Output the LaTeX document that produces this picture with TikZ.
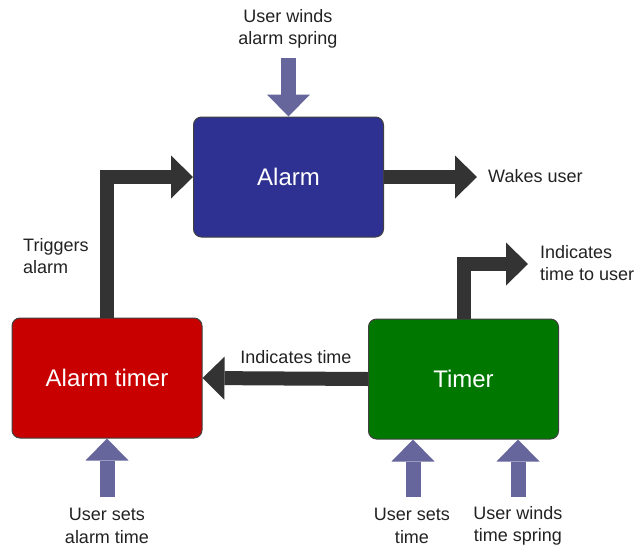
\documentclass[tikz,border=0pt]{standalone}
\usepackage{fontspec}
\setmainfont{Liberation Sans}
\usetikzlibrary{arrows.meta}
\definecolor{alarmblue}{HTML}{2E3192}
\definecolor{timerred}{HTML}{C80000}
\definecolor{timergreen}{HTML}{007800}
\definecolor{boxedge}{HTML}{404040}
\definecolor{darkarrow}{HTML}{333333}
\definecolor{purplearrow}{HTML}{66669C}
\definecolor{labeltext}{HTML}{222222}
\begin{document}
\begin{tikzpicture}[x=1pt,y=-1pt,
  box/.style={draw=boxedge, line width=1pt, rounded corners=8pt,
    minimum width=190pt, minimum height=120pt, inner sep=0pt,
    text=white, font=\fontsize{24}{28}\selectfont},
  lbl/.style={text=labeltext, font=\fontsize{18}{22.5}\selectfont, inner sep=0pt},
  flow/.style={draw=darkarrow, line width=14pt, line join=miter, line cap=butt,
    -{Triangle[width=43pt,length=22pt,line width=0pt]}},
  feed/.style={draw=purplearrow, line width=15pt, line cap=butt,
    -{Triangle[width=43pt,length=22pt,line width=0pt]}}
]
\useasboundingbox (0,0) rectangle (638,550);

% boxes
\node[box, fill=alarmblue] (alarm) at (288.5,177) {Alarm};
\node[box, fill=timerred] (atimer) at (107,378) {Alarm timer};
\node[box, fill=timergreen] (timer) at (463.5,379) {Timer};

% labels
\node[lbl, align=center] (winda) at (288,29) {User winds\\alarm spring};
\node[lbl, align=left, anchor=west] (trig) at (23,256) {Triggers\\alarm};
\node[lbl, anchor=west] (wakes) at (488,176) {Wakes user};
\node[lbl, align=left, anchor=west] (ttu) at (540,263) {Indicates\\time to user};
\node[lbl] (indt) at (296,357) {Indicates time};
\node[lbl, align=center] (seta) at (107,526) {User sets\\alarm time};
\node[lbl, align=center] (sett) at (412,526) {User sets\\time};
\node[lbl, align=center] (windt) at (518,526) {User winds\\time spring};

% free ends
\coordinate (sprA) at (288.5,58);
\coordinate (wakesend) at (477,177);
\coordinate (ttuend) at (528,264);
\coordinate (setAstart) at (107,497);
\coordinate (tsin) at ([xshift=-50.5pt]timer.south);
\coordinate (twin) at ([xshift=54.5pt]timer.south);
\coordinate (setTstart) at (413,497);
\coordinate (windTstart) at (518,497);

% dark flow arrows
\draw[flow] (atimer.north) |- (alarm.west);
\draw[flow] (alarm.east) -- (wakesend);
\draw[flow] (timer.north) |- (ttuend);
\draw[flow] (timer.west) -- (atimer.east);

% purple input arrows
\draw[feed] (sprA) -- (alarm.north);
\draw[feed] (setAstart) -- (atimer.south);
\draw[feed] (setTstart) -- (tsin);
\draw[feed] (windTstart) -- (twin);
\end{tikzpicture}
\end{document}
